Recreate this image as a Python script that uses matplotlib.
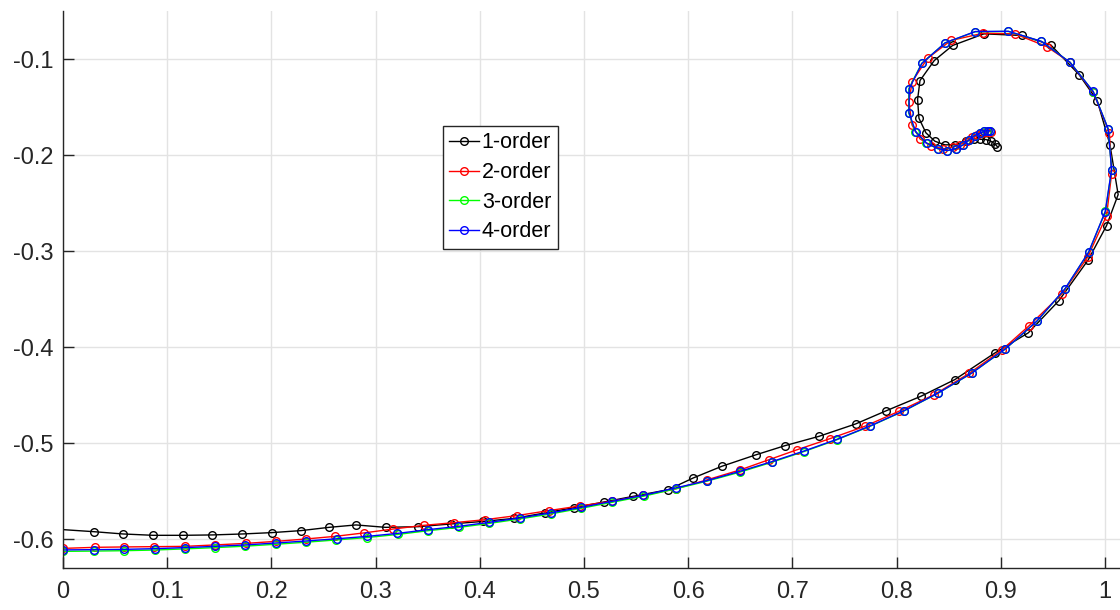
import matplotlib
matplotlib.use('Agg')
import matplotlib.pyplot as plt

plt.rcParams['font.family'] = ['Liberation Sans', 'DejaVu Sans']
plt.rcParams['axes.unicode_minus'] = False

# series
x_o1 = [-0.0290, 0.0294, 0.0578, 0.0866, 0.1149, 0.1433, 0.1721, 0.2003, 0.2284, 0.2553, 0.2812,
        0.3097, 0.3410, 0.3721, 0.4033, 0.4328, 0.4626, 0.4904, 0.5192, 0.5474, 0.5809, 0.6049, 0.6322,
        0.6648, 0.6929, 0.7255, 0.7607, 0.7898, 0.8234, 0.8560, 0.8944, 0.9264, 0.9559,
        0.9840, 1.0016, 1.0127, 1.0048, 0.9926, 0.9753, 0.9479, 0.9200, 0.8839, 0.8538, 0.8362,
        0.8225, 0.8202, 0.8215, 0.8282, 0.8369, 0.8464, 0.8563, 0.8663, 0.8746, 0.8800, 0.8858,
        0.8906, 0.8944, 0.8967]
y_o1 = [-0.5877, -0.5919, -0.5943, -0.5957, -0.5957, -0.5953, -0.5943, -0.5929, -0.5908, -0.5874, -0.5849,
        -0.5874, -0.5867, -0.5839, -0.5812, -0.5781, -0.5724, -0.5669, -0.5610, -0.5551, -0.5482, -0.5360, -0.5239,
        -0.5120, -0.5024, -0.4927, -0.4798, -0.4662, -0.4510, -0.4336, -0.4059, -0.3850, -0.3514,
        -0.3090, -0.2733, -0.2411, -0.1890, -0.1432, -0.1164, -0.0852, -0.0755, -0.0738, -0.0859, -0.1016,
        -0.1224, -0.1422, -0.1616, -0.1768, -0.1856, -0.1893, -0.1893, -0.1856, -0.1831, -0.1835, -0.1838,
        -0.1856, -0.1883, -0.1911]

x_o2 = [0.0000, 0.0307, 0.0589, 0.0873, 0.1167, 0.1459, 0.1753, 0.2044, 0.2332, 0.2610,
        0.2889, 0.3170, 0.3464, 0.3755, 0.4053, 0.4354, 0.4661, 0.4962, 0.5266, 0.5569, 0.5880, 0.6180,
        0.6497, 0.6778, 0.7041, 0.7361, 0.7694, 0.8023, 0.8362, 0.8698, 0.9012, 0.9274, 0.9587,
        0.9834, 1.0016, 1.0064, 1.0043, 0.9888, 0.9664, 0.9441, 0.9136, 0.8832, 0.8522, 0.8298,
        0.8150, 0.8119, 0.8148, 0.8225, 0.8330, 0.8443, 0.8538, 0.8608, 0.8673, 0.8721, 0.8768,
        0.8816, 0.8864, 0.8906]
y_o2 = [-0.6093, -0.6082, -0.6078, -0.6075, -0.6072, -0.6057, -0.6041, -0.6020, -0.5995, -0.5968,
        -0.5932, -0.5891, -0.5853, -0.5825, -0.5794, -0.5752, -0.5700, -0.5651, -0.5603, -0.5541, -0.5474, -0.5380,
        -0.5277, -0.5169, -0.5068, -0.4951, -0.4823, -0.4666, -0.4493, -0.4271, -0.4027, -0.3774, -0.3444,
        -0.3063, -0.2629, -0.2195, -0.1765, -0.1346, -0.1034, -0.0870, -0.0738, -0.0731, -0.0807, -0.0992,
        -0.1234, -0.1443, -0.1685, -0.1831, -0.1901, -0.1936, -0.1919, -0.1894, -0.1849, -0.1815, -0.1787,
        -0.1769, -0.1756, -0.1756]

x_o3 = [0.0000, 0.0297, 0.0590, 0.0881, 0.1170, 0.1461, 0.1750, 0.2042, 0.2330, 0.2624,
        0.2920, 0.3211, 0.3504, 0.3796, 0.4091, 0.4383, 0.4682, 0.4973, 0.5272, 0.5572, 0.5880, 0.6178,
        0.6495, 0.6802, 0.7112, 0.7426, 0.7746, 0.8072, 0.8400, 0.8723, 0.9045, 0.9347, 0.9619,
        0.9846, 1.0005, 1.0065, 1.0031, 0.9889, 0.9667, 0.9390, 0.9073, 0.8755, 0.8465, 0.8241,
        0.8118, 0.8116, 0.8181, 0.8287, 0.8395, 0.8486, 0.8569, 0.8639, 0.8697, 0.8751, 0.8799,
        0.8841, 0.8873, 0.8895]
y_o3 = [-0.6124, -0.6121, -0.6117, -0.6110, -0.6098, -0.6085, -0.6070, -0.6050, -0.6029, -0.6005,
        -0.5980, -0.5948, -0.5909, -0.5875, -0.5833, -0.5787, -0.5734, -0.5676, -0.5613, -0.5550, -0.5473, -0.5394,
        -0.5300, -0.5197, -0.5085, -0.4963, -0.4822, -0.4662, -0.4477, -0.4268, -0.4017, -0.3729, -0.3390,
        -0.3008, -0.2586, -0.2150, -0.1728, -0.1340, -0.1036, -0.0817, -0.0713, -0.0716, -0.0833, -0.1046,
        -0.1309, -0.1559, -0.1757, -0.1878, -0.1933, -0.1954, -0.1933, -0.1894, -0.1842, -0.1797, -0.1773,
        -0.1752, -0.1745, -0.1748]

x_o4 = [0.0000, 0.0298, 0.0589, 0.0882, 0.1167, 0.1458, 0.1748, 0.2043, 0.2332, 0.2627,
        0.2920, 0.3210, 0.3503, 0.3794, 0.4092, 0.4386, 0.4681, 0.4974, 0.5271, 0.5569, 0.5880, 0.6180,
        0.6497, 0.6804, 0.7114, 0.7428, 0.7748, 0.8074, 0.8401, 0.8724, 0.9044, 0.9345, 0.9616,
        0.9843, 1.0003, 1.0064, 1.0031, 0.9887, 0.9664, 0.9388, 0.9072, 0.8755, 0.8467, 0.8244,
        0.8122, 0.8119, 0.8183, 0.8289, 0.8397, 0.8487, 0.8570, 0.8640, 0.8698, 0.8752, 0.8800,
        0.8842, 0.8874, 0.8896]
y_o4 = [-0.6109, -0.6106, -0.6103, -0.6096, -0.6085, -0.6072, -0.6057, -0.6037, -0.6016, -0.5993,
        -0.5968, -0.5937, -0.5898, -0.5864, -0.5822, -0.5776, -0.5724, -0.5666, -0.5603, -0.5541, -0.5464, -0.5388,
        -0.5291, -0.5190, -0.5079, -0.4958, -0.4818, -0.4659, -0.4475, -0.4267, -0.4017, -0.3730, -0.3392,
        -0.3011, -0.2588, -0.2150, -0.1727, -0.1338, -0.1034, -0.0815, -0.0711, -0.0714, -0.0831, -0.1044,
        -0.1307, -0.1557, -0.1755, -0.1876, -0.1932, -0.1953, -0.1932, -0.1893, -0.1841, -0.1796, -0.1772,
        -0.1751, -0.1744, -0.1747]

labels = ['1-order', '2-order', '3-order', '4-order']
colors = ['#000000', '#ff0000', '#00ff00', '#0000ff']
xticks = [0, 0.1, 0.2, 0.3, 0.4, 0.5, 0.6, 0.7, 0.8, 0.9, 1.0]
xticklabels = ['0', '0.1', '0.2', '0.3', '0.4', '0.5', '0.6', '0.7', '0.8', '0.9', '1']
yticks = [-0.6, -0.5, -0.4, -0.3, -0.2, -0.1]
yticklabels = ['-0.6', '-0.5', '-0.4', '-0.3', '-0.2', '-0.1']

fig = plt.figure(figsize=(11.2, 6.1), dpi=100)
# axes run past the right edge of the picture, as in the cropped original
ax = fig.add_axes([0.05625, 0.0684, 0.9768, 0.9136])

series = [(x_o1, y_o1), (x_o2, y_o2), (x_o3, y_o3), (x_o4, y_o4)]
for (xs, ys), c, lab in zip(series, colors, labels):
    ax.plot(xs, ys, color=c, lw=1.0, marker='o', ms=5.5, mfc='none', mec=c, mew=1.0, label=lab)

ax.set_xlim(0, 1.05)
ax.set_ylim(-0.63, -0.05)
ax.set_xticks(xticks)
ax.set_xticklabels(xticklabels)
ax.set_yticks(yticks)
ax.set_yticklabels(yticklabels)

ax.grid(True, color='#e3e3e3', lw=1.0)
ax.set_axisbelow(True)
for s in ['top', 'right']:
    ax.spines[s].set_visible(False)
for s in ['left', 'bottom']:
    ax.spines[s].set_color('#262626')
    ax.spines[s].set_linewidth(1.0)
ax.tick_params(direction='in', length=8, width=1.0, color='#262626',
               labelsize=17, labelcolor='#262626')
ax.tick_params(axis='x', pad=9)
ax.tick_params(axis='y', pad=7)

leg = ax.legend(loc='upper left', bbox_to_anchor=(443 / 1120, 1 - 126 / 610),
                bbox_transform=fig.transFigure, borderaxespad=0, fontsize=15.5,
                handlelength=1.35, handletextpad=0.15, labelspacing=0.40,
                borderpad=0.3, fancybox=False, framealpha=1, edgecolor='#262626')
leg.get_frame().set_linewidth(1.0)

fig.savefig('out.png', dpi=100)
